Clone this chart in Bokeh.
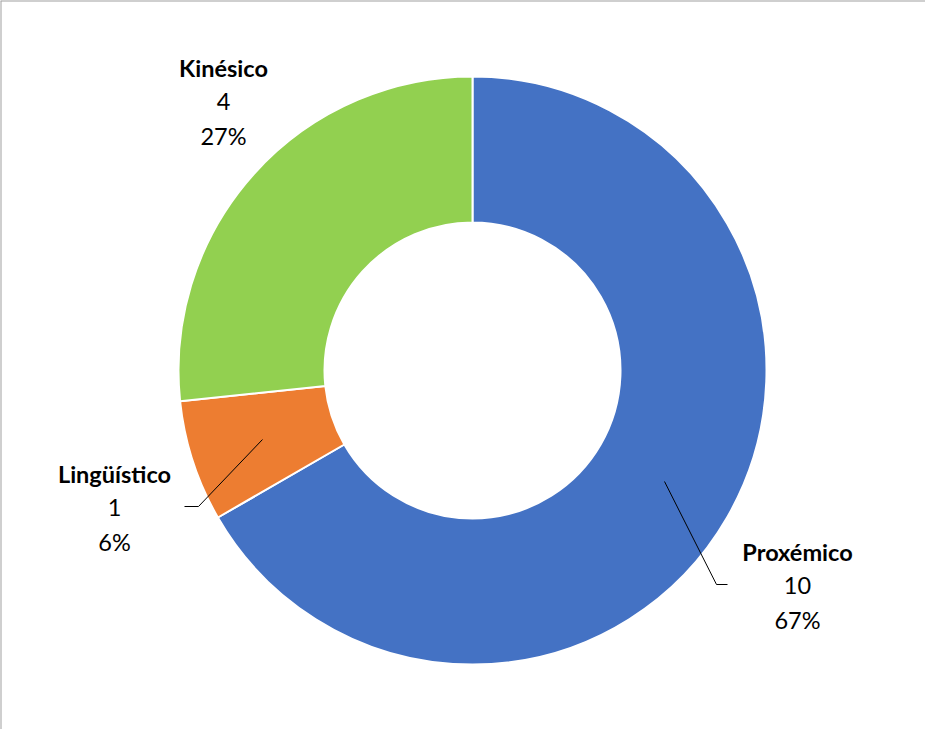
from math import pi
from bokeh.plotting import figure
from bokeh.models import Range1d, Span
from bokeh.core.properties import value
from bokeh.embed import file_html
from bokeh.resources import INLINE

# ---- data ----
categories = ["Proxémico", "Lingüístico", "Kinésico"]
counts = [10, 1, 4]
pct_labels = ["67%", "6%", "27%"]
colors = ["#4472C4", "#ED7D31", "#92D050"]

# ---- layout (pixel coordinates of the picture; y measured downward) ----
W, H = 925, 729
X0, Y0 = 8, 8
def fy(py):
    return 745 - py

cx, cy = 480, 378
r_out, r_in = 294, 148

p = figure(width=W, height=H, output_backend="svg", toolbar_location=None,
           x_range=Range1d(X0, X0 + W), y_range=Range1d(fy(Y0 + H), fy(Y0)),
           min_border=0)
p.axis.visible = False
p.xgrid.visible = False
p.ygrid.visible = False
p.outline_line_color = None
p.background_fill_color = "white"
p.border_fill_color = "white"

total = sum(counts)
starts, ends = [], []
cum = 0
for c in counts:
    starts.append(pi / 2 - 2 * pi * cum / total)
    cum += c
    ends.append(pi / 2 - 2 * pi * cum / total)

p.annular_wedge(x=[cx] * 3, y=[fy(cy)] * 3, inner_radius=r_in, outer_radius=r_out,
                start_angle=starts, end_angle=ends, direction="clock",
                fill_color=colors, line_color="white", line_width=2)

# leader lines
p.line(x=[270, 206, 192], y=[fy(447), fy(514), fy(514)], line_color="black", line_width=1)
p.line(x=[672, 724, 735], y=[fy(489), fy(592), fy(592)], line_color="black", line_width=1)

# labels
label_pos = {"Proxémico": (805, 559), "Lingüístico": (122, 481), "Kinésico": (231, 75)}
font = value("Lato")
fs = "23.5px"
for name, cnt, pct in zip(categories, counts, pct_labels):
    lx, ly = label_pos[name]
    p.text(x=[lx], y=[fy(ly)], text=[name], text_font=font, text_font_size=fs,
           text_font_style="bold", text_align="center", text_baseline="middle", text_color="black")
    p.text(x=[lx], y=[fy(ly + 34)], text=[str(cnt)], text_font=font, text_font_size=fs,
           text_align="center", text_baseline="middle", text_color="black")
    p.text(x=[lx], y=[fy(ly + 68)], text=[pct], text_font=font, text_font_size=fs,
           text_align="center", text_baseline="middle", text_color="black")

# chart border (top and left edges visible)
p.add_layout(Span(location=fy(Y0), dimension="width", line_color="#a0a0a0", line_width=2))
p.add_layout(Span(location=X0, dimension="height", line_color="#a0a0a0", line_width=2))

open("out.html", "w").write(file_html(p, INLINE))
